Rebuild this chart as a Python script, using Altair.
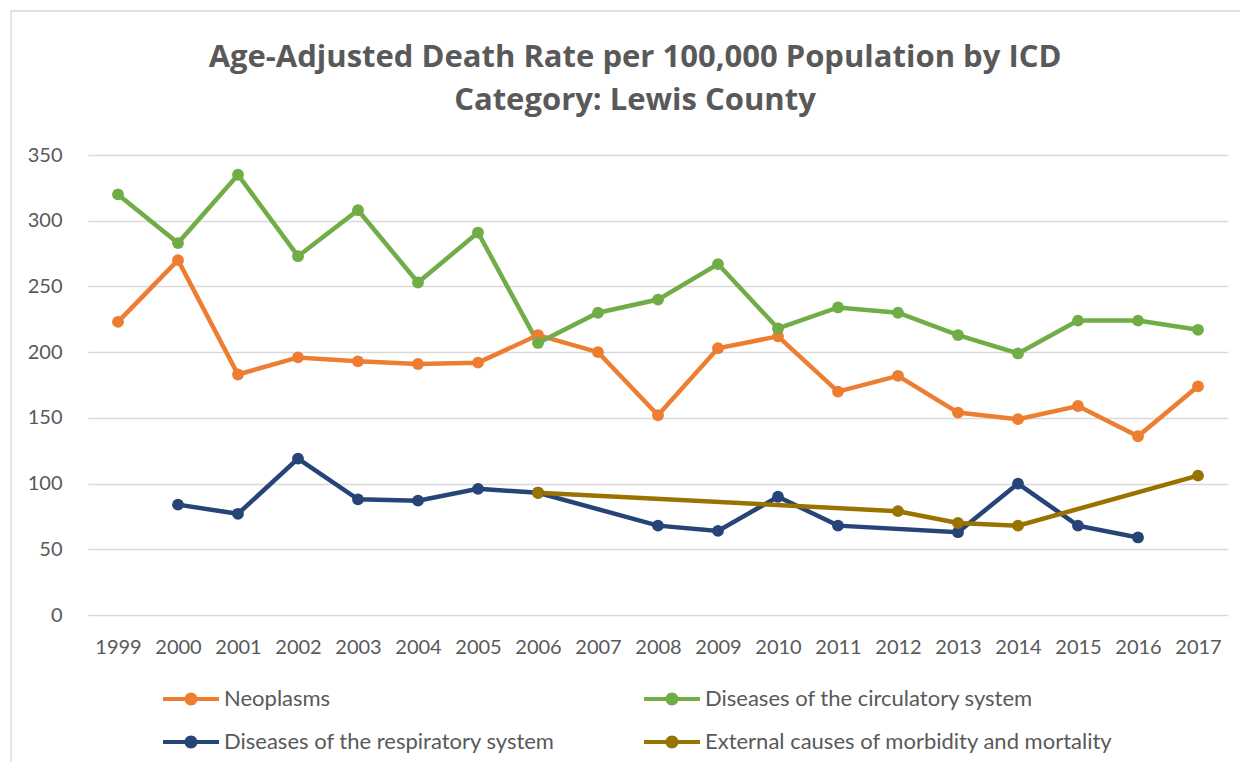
import altair as alt
import pandas as pd

years = [str(y) for y in range(1999, 2018)]

neoplasms = [223, 270, 183, 196, 193, 191, 192, 213, 200, 152, 203, 212, 170, 182, 154, 149, 159, 136, 174]
circulatory = [320, 283, 335, 273, 308, 253, 291, 207, 230, 240, 267, 218, 234, 230, 213, 199, 224, 224, 217]
respiratory = [None, 84, 77, 119, 88, 87, 96, 93, None, 68, 64, 90, 68, None, 63, 100, 68, 59, None]
external = [None, None, None, None, None, None, None, 93, None, None, None, None, None, 79, 70, 68, None, None, 106]

series_names = [
    "Neoplasms",
    "Diseases of the circulatory system",
    "Diseases of the respiratory system",
    "External causes of morbidity and mortality",
]
series_values = [neoplasms, circulatory, respiratory, external]
colors = ["#ED7D31", "#70AD47", "#264478", "#997300"]

title_lines = ["Age-Adjusted Death Rate per 100,000 Population by ICD", "Category: Lewis County"]

rows = []
for order, (name, vals) in enumerate(zip(series_names, series_values)):
    for yr, v in zip(years, vals):
        if v is not None:
            rows.append({"Year": yr, "Rate": v, "Series": name, "order": order})
df = pd.DataFrame(rows)

FONT = "Lato"
GREY = "#595959"

legend_path = (
    "M-2.8,-0.2L2.8,-0.2L2.8,0.2L-2.8,0.2Z "
    "M0.65,0A0.65,0.65 0 1,1 -0.65,0A0.65,0.65 0 1,1 0.65,0Z"
)

color = alt.Color(
    "Series:N",
    scale=alt.Scale(domain=series_names, range=colors),
    legend=alt.Legend(
        title=None,
        orient="none",
        legendX=92,
        legendY=533,
        direction="horizontal",
        columns=2,
        columnPadding=89,
        rowPadding=21,
        symbolType=legend_path,
        symbolSize=400,
        symbolStrokeWidth=0,
        labelOffset=22,
        labelFont=FONT,
        labelFontSize=22,
        labelColor=GREY,
        labelLimit=600,
    ),
)

x = alt.X(
    "Year:O",
    sort=years,
    scale=alt.Scale(domain=years, padding=0.5),
    axis=alt.Axis(
        title=None,
        labelAngle=0,
        labelFont=FONT,
        labelFontSize=20,
        labelColor=GREY,
        labelPadding=22,
        ticks=False,
        domain=False,
        grid=False,
    ),
)
y = alt.Y(
    "Rate:Q",
    scale=alt.Scale(domain=[0, 350], nice=False),
    axis=alt.Axis(
        title=None,
        values=[0, 50, 100, 150, 200, 250, 300, 350],
        labelFont=FONT,
        labelFontSize=20,
        labelColor=GREY,
        labelPadding=26,
        ticks=False,
        domain=False,
        grid=True,
        gridColor="#D9D9D9",
        gridWidth=1.3,
    ),
)

border = alt.Chart(pd.DataFrame({"a": [0]})).mark_rect(
    fill=None, stroke="#D9D9D9", strokeWidth=1.3
).encode(
    x=alt.value(-77), x2=alt.value(1160), y=alt.value(-144), y2=alt.value(620)
)


def title_layer(text, ypix):
    return alt.Chart(pd.DataFrame({"line": [text]})).mark_text(
        font="Open Sans", fontSize=31, fontWeight="bold", color=GREY,
        align="center", baseline="alphabetic",
    ).encode(text="line:N", x=alt.value(547), y=alt.value(ypix))


title1 = title_layer(title_lines[0], -88)
title2 = title_layer(title_lines[1], -45)

lines = alt.Chart(df).mark_line(strokeWidth=4.5).encode(
    x=x, y=y, color=color, order=alt.Order("Year:O")
)
points = alt.Chart(df).mark_point(filled=True, size=140, opacity=1).encode(
    x=x, y=y, color=color
)

chart = alt.layer(border, title1, title2, lines, points).properties(
    width=1140,
    height=460,
    padding={"left": 80, "top": 147, "right": 12, "bottom": 147},
    autosize=alt.AutoSizeParams(type="none"),
).configure_view(stroke=None)

chart.save("out.html", embed_options={"renderer": "svg", "actions": False})
